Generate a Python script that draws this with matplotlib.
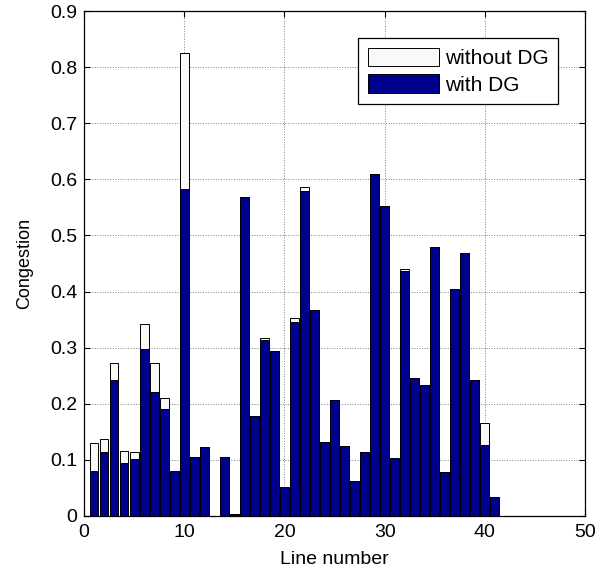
import matplotlib
matplotlib.use("Agg")
import matplotlib.pyplot as plt
import numpy as np

plt.rcParams["font.family"] = ["Liberation Sans", "DejaVu Sans"]

lines = np.arange(1, 42)
without_dg = [0.130, 0.137, 0.273, 0.116, 0.114, 0.342, 0.273, 0.211, 0.080, 0.825,
              0.105, 0.123, 0.0, 0.105, 0.004, 0.569, 0.178, 0.318, 0.294, 0.052,
              0.353, 0.586, 0.368, 0.131, 0.206, 0.124, 0.063, 0.114, 0.610, 0.552,
              0.103, 0.440, 0.246, 0.233, 0.480, 0.079, 0.405, 0.469, 0.243, 0.165,
              0.033]
with_dg = [0.080, 0.114, 0.243, 0.094, 0.102, 0.297, 0.221, 0.191, 0.080, 0.583,
           0.105, 0.123, 0.0, 0.105, 0.004, 0.569, 0.178, 0.313, 0.294, 0.052,
           0.345, 0.580, 0.368, 0.131, 0.206, 0.124, 0.063, 0.114, 0.610, 0.552,
           0.102, 0.436, 0.246, 0.233, 0.480, 0.079, 0.405, 0.469, 0.243, 0.126,
           0.033]
ytick_labels = ["0", "0.1", "0.2", "0.3", "0.4", "0.5", "0.6", "0.7", "0.8", "0.9"]

fig = plt.figure(figsize=(6.03, 5.69), dpi=100)
ax = fig.add_axes([84 / 603, 53 / 569, 501 / 603, 505 / 569])

ax.bar(lines, without_dg, width=0.88, color="#FBF8F8", edgecolor="black",
       linewidth=0.7, label="without DG", zorder=2)
ax.bar(lines, with_dg, width=0.88, color="#00008F", edgecolor="black",
       linewidth=0.7, label="with DG", zorder=3)

ax.set_xlim(0, 50)
ax.set_ylim(0, 0.9)
ax.set_xticks(range(0, 51, 10))
ax.set_yticks(np.arange(0, 0.91, 0.1))
ax.set_yticklabels(ytick_labels)
ax.grid(True, color="#808080", linestyle=":", linewidth=0.7, zorder=0)
ax.set_axisbelow(True)
ax.tick_params(direction="in", top=True, right=True, labelsize=14, length=4)
ax.tick_params(axis="y", pad=5)
ax.tick_params(axis="x", pad=6)
for s in ax.spines.values():
    s.set_linewidth(0.9)

ax.set_xlabel("Line number", fontsize=14, labelpad=7)
ax.set_ylabel("Congestion", fontsize=13, labelpad=12)

leg = ax.legend(loc="upper right", bbox_to_anchor=(0.946, 0.946), borderaxespad=0,
                fontsize=15, fancybox=False, framealpha=1, edgecolor="black",
                handlelength=3.4, handleheight=1.0, borderpad=0.45,
                labelspacing=0.3, handletextpad=0.3)
leg.get_frame().set_linewidth(0.9)

fig.savefig("out.png", dpi=100)
